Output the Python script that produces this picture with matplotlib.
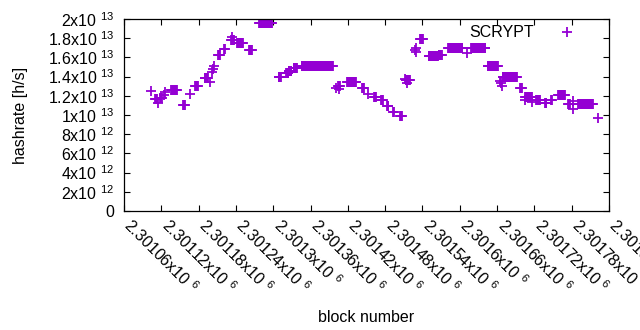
import numpy as np
import matplotlib
matplotlib.use('Agg')
import matplotlib.pyplot as plt
import matplotlib.transforms as mtransforms

plt.rcParams['font.family'] = ['Liberation Sans', 'DejaVu Sans']
plt.rcParams['mathtext.fontset'] = 'custom'
plt.rcParams['mathtext.rm'] = 'Liberation Sans'
plt.rcParams['mathtext.default'] = 'regular'

# plateaus: first block, last block, hashrate [1e13 h/s]
seg_start = [2301110, 2301118, 2301136, 2301155, 2301174, 2301190, 2301211, 2301221,
             2301232, 2301242, 2301261, 2301277, 2301309, 2301321, 2301325, 2301333,
             2301346, 2301404, 2301419, 2301443, 2301462, 2301474, 2301483, 2301493,
             2301504, 2301513, 2301536, 2301550, 2301566, 2301581, 2301618, 2301645,
             2301669, 2301697, 2301705, 2301723, 2301737, 2301747, 2301758, 2301774,
             2301790]
seg_end = [2301113, 2301121, 2301145, 2301158, 2301179, 2301195, 2301214, 2301222,
           2301237, 2301251, 2301266, 2301298, 2301312, 2301324, 2301329, 2301338,
           2301396, 2301407, 2301433, 2301446, 2301465, 2301476, 2301485, 2301494,
           2301507, 2301520, 2301541, 2301565, 2301571, 2301604, 2301641, 2301661,
           2301692, 2301700, 2301716, 2301729, 2301739, 2301748, 2301769, 2301777,
           2301814]
seg_value = [1.17, 1.18, 1.265, 1.10, 1.30, 1.385, 1.63, 1.69,
             1.78, 1.745, 1.675, 1.958, 1.393, 1.435, 1.46, 1.49,
             1.507, 1.30, 1.347, 1.278, 1.19, 1.156, 1.094, 1.035,
             0.986, 1.36, 1.79, 1.61, 1.625, 1.695, 1.695, 1.514,
             1.395, 1.278, 1.19, 1.153, 1.12, 1.16, 1.21, 1.115,
             1.115]

# single blocks off the plateaus
single_block = [2301103, 2301114, 2301124, 2301126, 2301166, 2301198, 2301202, 2301203,
                2301205, 2301234, 2301401, 2301406, 2301452, 2301512, 2301515, 2301528,
                2301529, 2301530, 2301612, 2301665, 2301666, 2301668, 2301705, 2301716,
                2301782, 2301782, 2301822]
single_value = [1.25, 1.13, 1.21, 1.24, 1.22, 1.34, 1.45, 1.48,
                1.51, 1.815, 1.28, 1.27, 1.22, 1.38, 1.33, 1.68,
                1.66, 1.70, 1.645, 1.35, 1.33, 1.30, 1.16, 1.14,
                1.15, 1.06, 0.972]

x_ticks = np.arange(2301060, 2301841, 60)
x_ticklabels = ['2.30106', '2.30112', '2.30118', '2.30124', '2.3013', '2.30136', '2.30142',
                '2.30148', '2.30154', '2.3016', '2.30166', '2.30172', '2.30178', '2.30184']
y_ticks = np.arange(0, 2.01e13, 2e12)
y_ticklabels = ['0', '2x10 $^{12}$', '4x10 $^{12}$', '6x10 $^{12}$', '8x10 $^{12}$',
                '1x10 $^{13}$', '1.2x10 $^{13}$', '1.4x10 $^{13}$', '1.6x10 $^{13}$',
                '1.8x10 $^{13}$', '2x10 $^{13}$']

blocks = []
rates = []
for s, e, v in zip(seg_start, seg_end, seg_value):
    for b in range(s, e + 1):
        blocks.append(b)
        rates.append(v * 1e13)
for b, v in zip(single_block, single_value):
    blocks.append(b)
    rates.append(v * 1e13)

fig = plt.figure(figsize=(6.4, 3.3), dpi=100)
ax = fig.add_axes([124/640., 1-211/330., 485/640., 192/330.])
ax.plot(blocks, rates, '+', color='#9400D3', ms=6.5, mew=1.3, ls='none', label='SCRYPT')

ax.set_xlim(2301060, 2301840)
ax.set_ylim(0, 2e13)
ax.set_xticks(x_ticks)
ax.set_xticklabels([])
# slanted x labels, drawn by hand so they start right at the tick
trans = ax.get_xaxis_transform() + mtransforms.ScaledTranslation(0.10, -0.04, fig.dpi_scale_trans)
for t, l in zip(x_ticks, x_ticklabels):
    ax.text(t, 0, l + 'x10 $^{6}$', transform=trans, rotation=-45, rotation_mode='anchor',
            ha='left', va='top', fontsize=11.5, clip_on=False)
ax.set_yticks(y_ticks)
ax.set_yticklabels(y_ticklabels)
ax.tick_params(direction='in', length=4, width=0.8, top=True, right=True,
               labelsize=11.5, pad=7)
for sp in ax.spines.values():
    sp.set_linewidth(0.9)

ax.set_xlabel('block number', fontsize=11.5, labelpad=64)
ax.set_ylabel('hashrate [h/s]', fontsize=11.5, labelpad=14)
ax.legend(loc='upper right', bbox_to_anchor=(0.9596, 1.0), markerfirst=False,
          frameon=False, fontsize=11.5, handlelength=2.0, handletextpad=1.1,
          borderaxespad=0)

plt.savefig('out.png', dpi=100)
